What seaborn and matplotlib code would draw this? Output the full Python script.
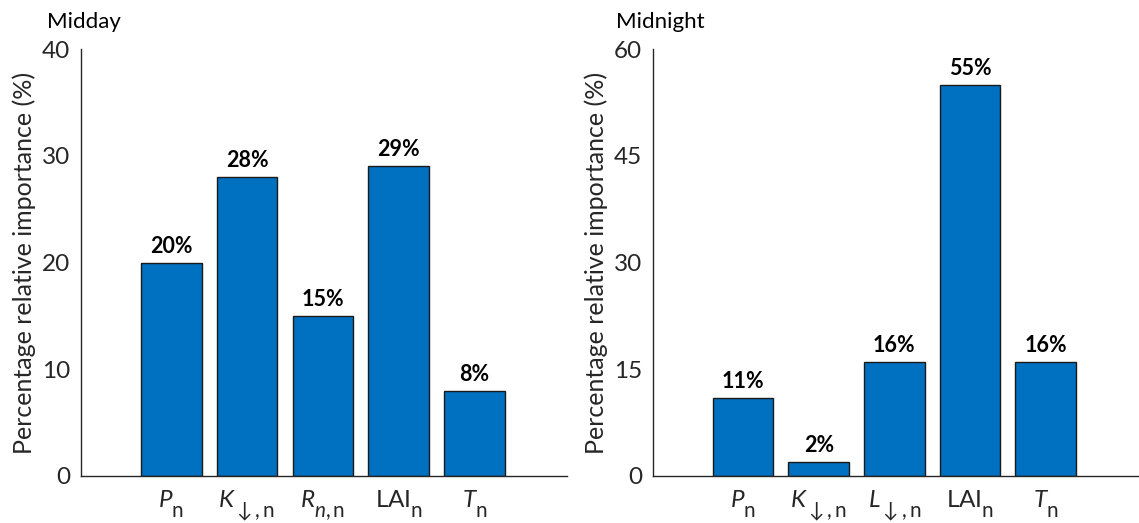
import matplotlib
matplotlib.use("Agg")
import matplotlib.pyplot as plt
import matplotlib._mathtext as mt
import seaborn as sns
import pandas as pd

sns.set_theme(style="white")
plt.rcParams['font.family'] = ['Lato', 'DejaVu Sans']
plt.rcParams['mathtext.fontset'] = 'custom'
plt.rcParams['mathtext.rm'] = 'Lato'
plt.rcParams['mathtext.it'] = 'Lato:italic'
plt.rcParams['mathtext.bf'] = 'Lato:bold'

# Larger, lower subscripts for the driver symbols
mt.SHRINK_FACTOR = 0.85
mt.FontConstantsBase.sub1 = 0.9
mt.FontConstantsBase.sub2 = 0.9

# Relative importance of drivers (%)
midday_labels = [r'$\mathit{P}_{\mathrm{n}}$', r'$\mathit{K}_{\downarrow,\mathrm{n}}$',
                 r'$\mathit{R}_{n,\mathrm{n}}$', r'LAI$_{\mathrm{n}}$', r'$\mathit{T}_{\mathrm{n}}$']
midday_values = [20, 28, 15, 29, 8]
midnight_labels = [r'$\mathit{P}_{\mathrm{n}}$', r'$\mathit{K}_{\downarrow,\mathrm{n}}$',
                   r'$\mathit{L}_{\downarrow,\mathrm{n}}$', r'LAI$_{\mathrm{n}}$', r'$\mathit{T}_{\mathrm{n}}$']
midnight_values = [11, 2, 16, 55, 16]

panels = [
    ("Midday", midday_labels, midday_values, 40, [0, 10, 20, 30, 40]),
    ("Midnight", midnight_labels, midnight_values, 60, [0, 15, 30, 45, 60]),
]

W, H = 1139, 523
fig = plt.figure(figsize=(W / 100, H / 100), dpi=100)
ax_rects = [
    [81 / W, 1 - 476 / H, (567 - 81) / W, (476 - 49) / H],
    [653 / W, 1 - 476 / H, (1138 - 653) / W, (476 - 49) / H],
]
title_x = [47 / W, 616 / W]
bar_color = "#0070C0"
axis_color = "#262626"

for rect, tx, (title, labels, values, ymax, yticks) in zip(ax_rects, title_x, panels):
    ax = fig.add_axes(rect)
    df = pd.DataFrame({"driver": labels, "value": values})
    sns.barplot(data=df, x="driver", y="value", ax=ax, color=bar_color,
                saturation=1, width=0.8, edgecolor="#1a1a1a", linewidth=1.0)
    ax.set_xlim(-1.19, 5.22)
    ax.set_ylim(0, ymax)
    ax.set_yticks(yticks)
    ax.set_yticklabels([str(t) for t in yticks])
    for s in ["top", "right"]:
        ax.spines[s].set_visible(False)
    for s in ["left", "bottom"]:
        ax.spines[s].set_color(axis_color)
        ax.spines[s].set_linewidth(1.0)
    ax.tick_params(axis="both", direction="in", length=5, width=1.0,
                   colors=axis_color, labelcolor="#262626", labelsize=17.5, pad=8)
    ax.tick_params(axis="x", pad=9, labelsize=17.5)
    ax.set_xlabel("")
    ax.set_ylabel("Percentage relative importance (%)", fontsize=18, color="#262626",
                  labelpad=4)
    for i, v in enumerate(values):
        ax.text(i, v + ymax * 0.014, f"{v}%", ha="center", va="bottom",
                fontsize=15.5, fontweight="bold", color="black")
    fig.text(tx, 1 - 22 / H, title, ha="left", va="center",
             fontsize=16, color="black")

fig.savefig("out.png", dpi=100)
